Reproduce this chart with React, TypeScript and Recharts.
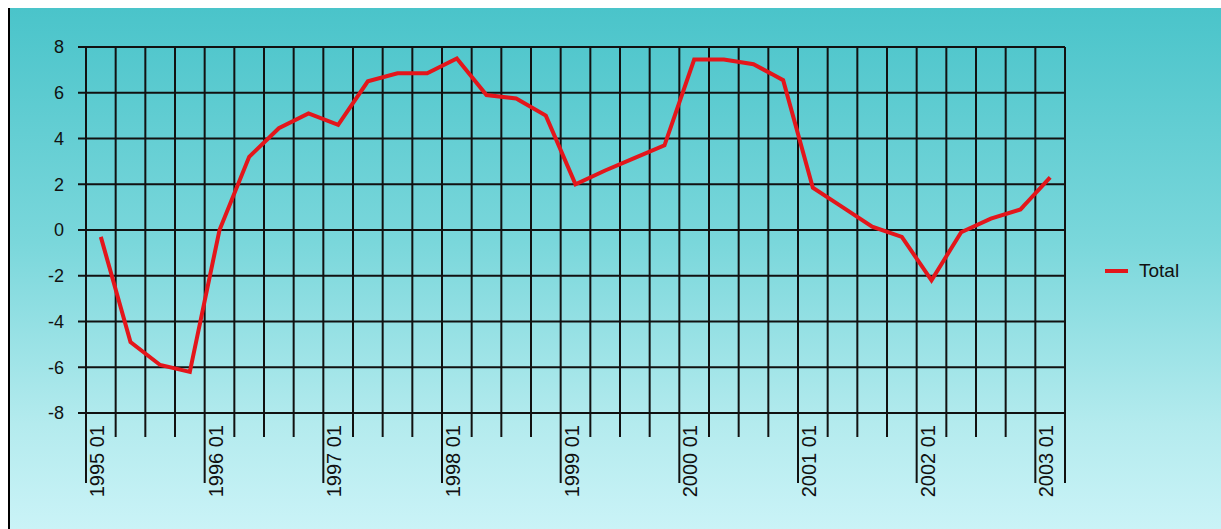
import React from 'react';
import { LineChart, Line, XAxis, YAxis, CartesianGrid } from 'recharts';

const periods = [
  '1995 01', '1995 02', '1995 03', '1995 04',
  '1996 01', '1996 02', '1996 03', '1996 04',
  '1997 01', '1997 02', '1997 03', '1997 04',
  '1998 01', '1998 02', '1998 03', '1998 04',
  '1999 01', '1999 02', '1999 03', '1999 04',
  '2000 01', '2000 02', '2000 03', '2000 04',
  '2001 01', '2001 02', '2001 03', '2001 04',
  '2002 01', '2002 02', '2002 03', '2002 04',
  '2003 01',
];

const total = [
  -0.3, -4.9, -5.9, -6.2,
  0.0, 3.2, 4.45, 5.1,
  4.6, 6.5, 6.85, 6.85,
  7.5, 5.9, 5.75, 5.0,
  2.0, 2.6, 3.15, 3.7,
  7.45, 7.45, 7.25, 6.55,
  1.85, 1.0, 0.15, -0.3,
  -2.2, -0.1, 0.5, 0.9,
  2.3,
];

const yTicks = [-8, -6, -4, -2, 0, 2, 4, 6, 8];

const data = periods.map((period, i) => ({ idx: i, period, Total: total[i] }));
// band edges, so the grid lines sit between the quarters
const edges = [-0.5, ...periods.map((_, i) => i + 0.5)];

const FONT = "Arial, 'Liberation Sans', Helvetica, sans-serif";
const RED = '#e3161b';

function QuarterTick(props: any) {
  const { x, y, payload } = props;
  const band = payload.value + 0.5;
  const isYear = (periods[band] || '').endsWith(' 01') || band === periods.length;
  const label = periods[band] && periods[band].endsWith(' 01') ? periods[band] : null;
  return (
    <g>
      <line x1={x} y1={y} x2={x} y2={y + (isYear ? 70 : 24)} stroke="#111" strokeWidth={2} />
      {label && (
        <text
          transform={`translate(${x + 11},${y + 12}) rotate(-90)`}
          textAnchor="end"
          dominantBaseline="central"
          fontSize={20}
          fontFamily={FONT}
          fill="#111"
        >
          {label}
        </text>
      )}
    </g>
  );
}

export default function App() {
  return (
    <div
      style={{
        position: 'fixed',
        left: 8,
        top: 8,
        width: 1211,
        height: 521,
        borderLeft: '2px solid #000',
        background: 'linear-gradient(to bottom, #4ac4ca 0%, #7ad7db 45%, #b4ebee 80%, #caf3f7 100%)',
      }}
    >
      <LineChart width={1211} height={521} data={data} margin={{ top: 39, right: 156, bottom: 16, left: 0 }}>
        <CartesianGrid stroke="#111" strokeWidth={2} horizontalValues={yTicks} verticalValues={edges} />
        <XAxis
          type="number"
          dataKey="idx"
          domain={[-0.5, periods.length - 0.5]}
          ticks={edges}
          interval={0}
          height={100}
          axisLine={false}
          tickLine={false}
          tickSize={0}
          tickMargin={0}
          tick={<QuarterTick />}
        />
        <YAxis
          domain={[-8, 8]}
          ticks={yTicks}
          width={76}
          axisLine={false}
          tickLine={{ stroke: '#111', strokeWidth: 2 }}
          tickSize={8}
          tickMargin={14}
          tick={{ fontSize: 18, fontFamily: FONT, fill: '#111' }}
          interval={0}
        />
        <Line
          type="linear"
          dataKey="Total"
          stroke={RED}
          strokeWidth={4}
          dot={false}
          isAnimationActive={false}
        />
      </LineChart>
      <div
        style={{
          position: 'absolute',
          left: 1095,
          top: 252,
          display: 'flex',
          alignItems: 'center',
          fontFamily: FONT,
          fontSize: 19,
          lineHeight: '22px',
          color: '#111',
        }}
      >
        <span style={{ display: 'inline-block', width: 23, height: 4, background: RED, marginRight: 11 }} />
        <span>Total</span>
      </div>
    </div>
  );
}
